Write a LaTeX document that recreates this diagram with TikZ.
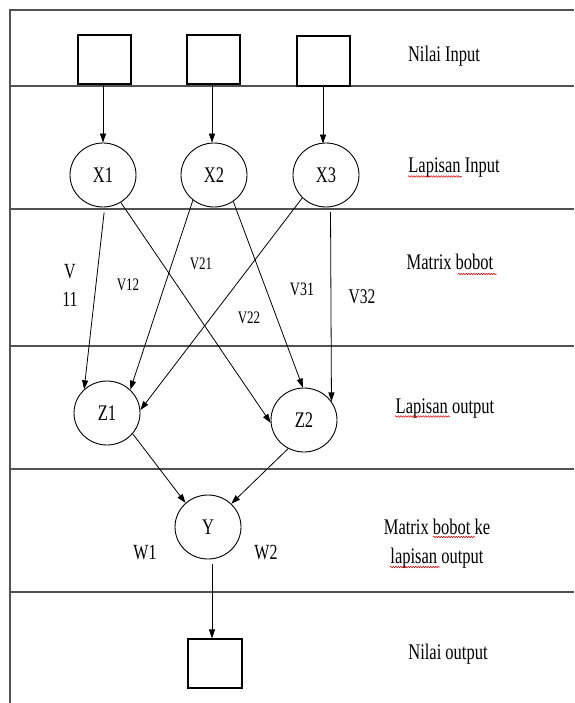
\documentclass[tikz,border=0pt]{standalone}
\usepackage{fontspec}
\setmainfont{Liberation Serif}
\usepackage{graphicx}
\usetikzlibrary{arrows.meta,shapes.geometric,decorations.pathmorphing}
\newcommand{\sy}[1]{\scalebox{1}[1.35]{#1}}
\begin{document}
\begin{tikzpicture}[x=1pt,y=-1pt,
  frame/.style={line width=1.6pt,black!68},
  inbox/.style={draw,line width=1.1pt,minimum width=53pt,minimum height=49pt,inner sep=0},
  neuron/.style={draw,ellipse,line width=0.9pt,minimum width=66pt,minimum height=64pt,inner sep=0,font=\fontsize{16.5}{20}\selectfont},
  arr/.style={line width=0.8pt,-{Triangle[length=9pt,width=6pt]}},
  lbl/.style={inner sep=0,anchor=base,font=\fontsize{16.5}{20}\selectfont},
  wl/.style={inner sep=0,font=\fontsize{#1}{18}\selectfont},
  spell/.style={red!85!black,line width=0.5pt,decorate,decoration={snake,amplitude=0.8pt,segment length=2.5pt}}]
\useasboundingbox (0,0) rectangle (574,703);
\fill[white] (0,0) rectangle (574,703);
% frame
\draw[frame] (10,703) -- (10,10) -- (574,10);
\foreach \yy in {86,209,346,469,592} \draw[frame] (10,\yy) -- (574,\yy);
% input boxes
\node[inbox] (b1) at (104.5,59.5) {};
\node[inbox] (b2) at (213.5,59.5) {};
\node[inbox,minimum height=50pt] (b3) at (323.5,61) {};
% neurons
\node[neuron] (X1) at (103,175) {\sy{X1}};
\node[neuron] (X2) at (214,175) {\sy{X2}};
\node[neuron] (X3) at (326,175) {\sy{X3}};
\node[neuron] (Z1) at (107,413) {\sy{Z1}};
\node[neuron] (Z2) at (304,420) {\sy{Z2}};
\node[neuron] (Y) at (208,527) {\sy{Y}};
\node[inbox,minimum width=54pt] (out) at (215,663.5) {};
% arrows
\draw[arr] ([xshift=-1.5pt]b1.south) -- ([xshift=-1.5pt]b1.south |- X1.north);
\draw[arr] ([xshift=-1.5pt]b2.south) -- ([xshift=-1.5pt]b2.south |- X2.north);
\draw[arr] ([xshift=-0.5pt]b3.south) -- ([xshift=-0.5pt,yshift=-1pt]b3.south |- X3.north);
\draw[arr] ([yshift=-5pt]X1.-88) -- (Z1.134);
\draw[arr] (X1.-57) -- (Z2.185);
\draw[arr] (X2.-130) -- (Z1.45);
\draw[arr] (X2.-54) -- (Z2.92);
\draw[arr] (X3.-136) -- (Z1.5);
\draw[arr] ([yshift=-5pt]X3.-82) -- (Z2.34);
\draw[arr] (Z1.-39) -- (Y.133);
\draw[arr] (Z2.-119) -- (Y.45);
\draw[arr] ([xshift=4pt,yshift=-5pt]Y.south) -- ([xshift=-3pt]out.north);
% weight labels
\node[wl=16] (v11a) at (70,272) {\sy{V}};
\node[wl=16] (v11b) at (70,299) {\sy{11}};
\node[wl=13] (v12) at (128,285) {\sy{V12}};
\node[wl=13] (v21) at (201,264) {\sy{V21}};
\node[wl=13] (v22) at (249,318) {\sy{V22}};
\node[wl=14] (v31) at (302,289) {\sy{V31}};
\node[wl=15.5] (v32) at (362,297) {\sy{V32}};
\node[wl=16] (w1) at (145,553) {\sy{W1}};
\node[wl=16] (w2) at (266,553) {\sy{W2}};
% right labels
\node[lbl] (t1) at (444,62) {\sy{Nilai Input}};
\node[lbl] (t2) at (454,173) {\sy{Lapisan Input}};
\node[lbl] (t3) at (450,269) {\sy{Matrix bobot}};
\node[lbl] (t4) at (445,413) {\sy{Lapisan output}};
\node[lbl] (t5) at (437,534) {\sy{Matrix bobot ke}};
\node[lbl] (t6) at (437,563) {\sy{lapisan output}};
\node[lbl] (t7) at (448,659) {\sy{Nilai output}};
% spell-check underlines
\draw[spell] (408,176.5) -- (462,176.5);
\draw[spell] (458,274) -- (497,274);
\draw[spell] (395,416.5) -- (450,416.5);
\draw[spell] (433,537) -- (475,537);
\draw[spell] (390,567) -- (440,567);
\end{tikzpicture}
\end{document}
